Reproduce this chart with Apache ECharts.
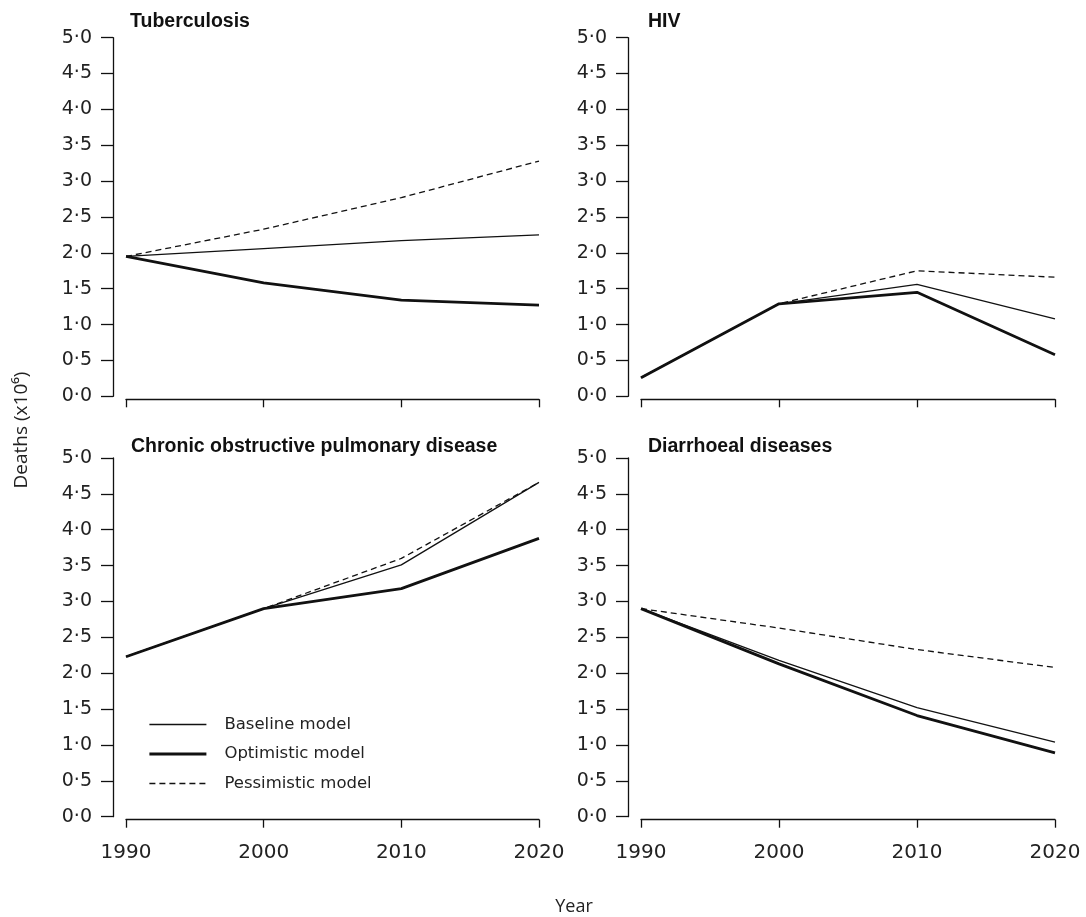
<!DOCTYPE html>
<html>
<head>
<meta charset="utf-8">
<title>Projected deaths by cause, 1990–2020</title>
<script src="https://cdn.jsdelivr.net/npm/echarts@6/dist/echarts.min.js"></script>
<style>
  html, body { margin: 0; padding: 0; background: #fff; }
  #chart { width: 1086px; height: 917px; }
</style>
</head>
<body>
<div id="chart"></div>
<script>
// Years on the horizontal axis
const years = [1990, 2000, 2010, 2020];

// Deaths (millions) per scenario
const tbBaseline     = [1.95, 2.06, 2.17, 2.25];
const tbOptimistic   = [1.95, 1.58, 1.34, 1.27];
const tbPessimistic  = [1.95, 2.33, 2.77, 3.28];

const hivBaseline    = [0.26, 1.29, 1.56, 1.08];
const hivOptimistic  = [0.26, 1.29, 1.45, 0.58];
const hivPessimistic = [0.26, 1.29, 1.75, 1.66];

const copdBaseline    = [2.23, 2.90, 3.51, 4.66];
const copdOptimistic  = [2.23, 2.90, 3.18, 3.88];
const copdPessimistic = [2.23, 2.90, 3.60, 4.66];

const diarBaseline    = [2.90, 2.18, 1.52, 1.04];
const diarOptimistic  = [2.90, 2.13, 1.41, 0.89];
const diarPessimistic = [2.90, 2.63, 2.33, 2.08];

const panelTitles = ['Tuberculosis', 'HIV', 'Chronic obstructive pulmonary disease', 'Diarrhoeal diseases'];
const scenarioNames = ['Baseline model', 'Optimistic model', 'Pessimistic model'];
const panelData = [
  [tbBaseline, tbOptimistic, tbPessimistic],
  [hivBaseline, hivOptimistic, hivPessimistic],
  [copdBaseline, copdOptimistic, copdPessimistic],
  [diarBaseline, diarOptimistic, diarPessimistic]
];

const tickFont = 'DejaVu Sans';
const ink = '#111';

// Panel layout: top-left, top-right, bottom-left, bottom-right
const grids = [
  { left: 126, top: 37.7, width: 413, height: 358.6 },
  { left: 641, top: 37.7, width: 414, height: 358.6 },
  { left: 126, top: 458,  width: 413, height: 358.7 },
  { left: 641, top: 458,  width: 414, height: 358.7 }
];

const scenarioStyles = [
  { width: 1.3, type: 'solid' },
  { width: 2.8, type: 'solid' },
  { width: 1.3, type: [6, 4] }
];

const xAxes = grids.map((g, i) => ({
  type: 'value',
  gridIndex: i,
  min: 1990, max: 2020, interval: 10,
  offset: 3,
  axisLine: { show: true, onZero: false, lineStyle: { color: ink, width: 1.3 } },
  axisTick: { show: true, length: 8, lineStyle: { color: ink, width: 1.3 } },
  axisLabel: {
    show: i >= 2,
    margin: 23,
    fontFamily: tickFont, fontSize: 20, color: '#222',
    formatter: v => String(v)
  },
  splitLine: { show: false }
}));

const yAxes = grids.map((g, i) => ({
  type: 'value',
  gridIndex: i,
  min: 0, max: 5, interval: 0.5,
  offset: 13,
  axisLine: { show: true, lineStyle: { color: ink, width: 1.3 } },
  axisTick: { show: true, length: 12, lineStyle: { color: ink, width: 1.3 } },
  axisLabel: {
    margin: 21,
    fontFamily: tickFont, fontSize: 19, color: '#222',
    formatter: v => v.toFixed(1).replace('.', '\u00B7')
  },
  splitLine: { show: false }
}));

const series = [];
panelData.forEach((sets, p) => {
  sets.forEach((vals, s) => {
    series.push({
      type: 'line',
      name: scenarioNames[s],
      xAxisIndex: p,
      yAxisIndex: p,
      symbol: 'none',
      silent: true,
      color: ink,
      lineStyle: { color: ink, width: scenarioStyles[s].width, type: scenarioStyles[s].type },
      data: years.map((y, k) => [y, vals[k]])
    });
  });
});

const titlePos = [
  { left: 130, top: 12 },
  { left: 648, top: 12 },
  { left: 131, top: 437 },
  { left: 648, top: 437 }
];

const option = {
  animation: false,
  backgroundColor: '#fff',
  title: panelTitles.map((t, i) => ({
    text: t,
    left: titlePos[i].left,
    top: titlePos[i].top,
    padding: 0,
    textStyle: { fontFamily: 'Liberation Sans', fontWeight: 'bold', fontSize: 19.5, color: ink }
  })),
  legend: {
    data: scenarioNames.map((n, s) => ({
      name: n,
      itemStyle: { opacity: 0 },
      lineStyle: { color: ink, width: scenarioStyles[s].width, type: scenarioStyles[s].type }
    })),
    orient: 'vertical',
    left: 148,
    top: 716,
    padding: 0,
    itemWidth: 57,
    itemHeight: 14,
    itemGap: 12.5,
    selectedMode: false,
    textStyle: { fontFamily: tickFont, fontSize: 16.5, lineHeight: 16.5, color: '#222', padding: [0, 0, 0, 13] }
  },
  grid: grids,
  xAxis: xAxes,
  yAxis: yAxes,
  series: series,
  graphic: [
    {
      type: 'text',
      x: 22, y: 430,
      rotation: Math.PI / 2,
      style: {
        text: 'Deaths (x10\u2076)',
        fontFamily: 'Open Sans', fontSize: 19, fill: '#222',
        align: 'center', verticalAlign: 'middle'
      }
    },
    {
      type: 'text',
      x: 574, y: 907,
      style: {
        text: 'Year',
        fontFamily: 'Open Sans', fontSize: 18, fill: '#222',
        align: 'center', verticalAlign: 'middle'
      }
    }
  ]
};

const chart = echarts.init(document.getElementById('chart'), null, { renderer: 'canvas' });
chart.setOption(option);
</script>
</body>
</html>
